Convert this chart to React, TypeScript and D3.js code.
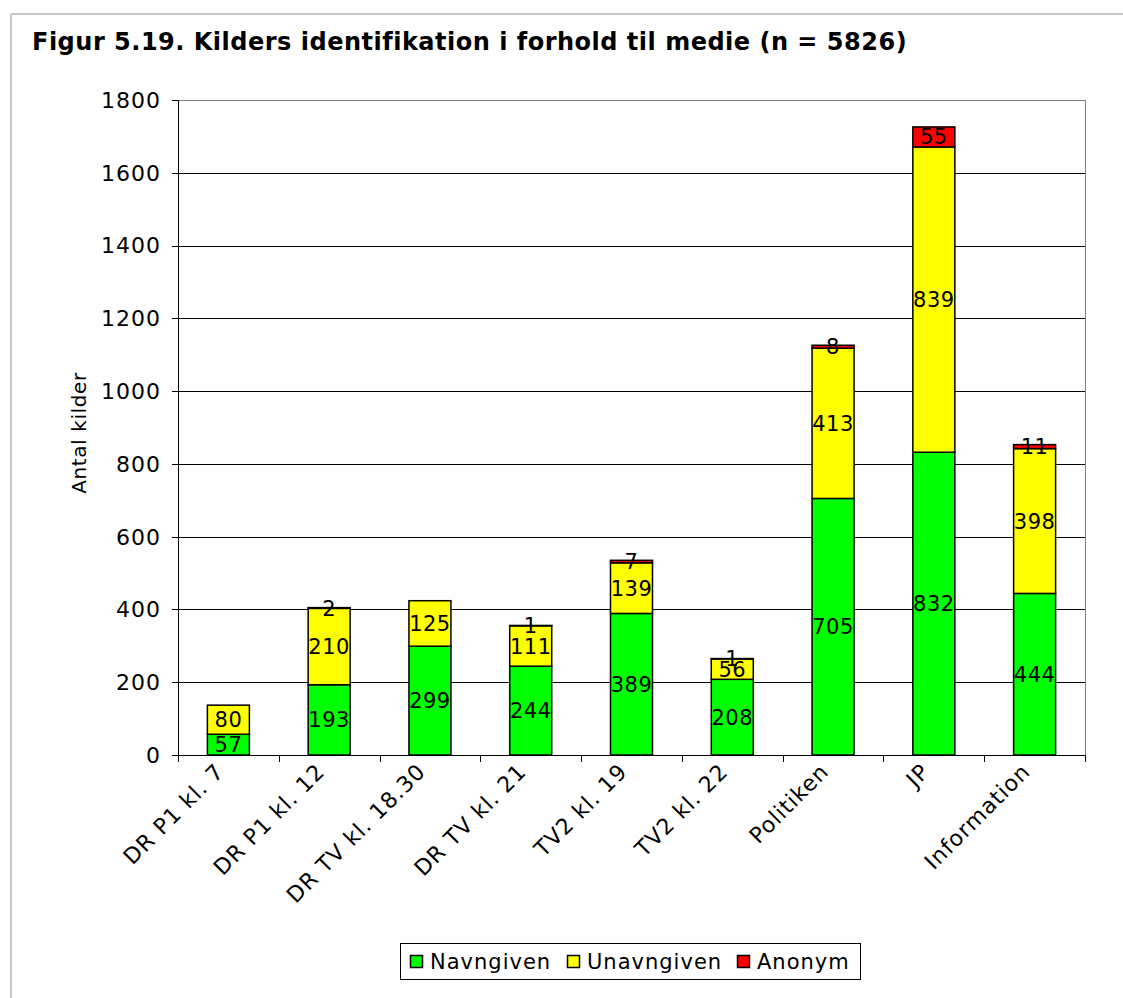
import * as d3 from "d3"

const categories = [
  "DR P1 kl. 7",
  "DR P1 kl. 12",
  "DR TV kl. 18.30",
  "DR TV kl. 21",
  "TV2 kl. 19",
  "TV2 kl. 22",
  "Politiken",
  "JP",
  "Information",
]
const seriesNames = ["Navngiven", "Unavngiven", "Anonym"]
const navngiven = [57, 193, 299, 244, 389, 208, 705, 832, 444]
const unavngiven = [80, 210, 125, 111, 139, 56, 413, 839, 398]
const anonym = [0, 2, 0, 1, 7, 1, 8, 55, 11]
const yTicks = [0, 200, 400, 600, 800, 1000, 1200, 1400, 1600, 1800]
const colors = ["#00ff00", "#ffff00", "#ff0000"]

const W = 1123
const H = 998
const font = "'DejaVu Sans', Verdana, sans-serif"

export default function App() {
  const left = 178
  const right = 1085
  const top = 100
  const bottom = 755

  const rows = categories.map((c, i) => ({
    cat: c,
    Navngiven: navngiven[i],
    Unavngiven: unavngiven[i],
    Anonym: anonym[i],
  }))

  const x = d3.scaleBand<string>().domain(categories).range([left, right]).paddingInner(0).paddingOuter(0)
  const y = d3.scaleLinear().domain([0, 1800]).range([bottom, top])
  const stack = d3.stack<(typeof rows)[0]>().keys(seriesNames)
  const layers = stack(rows)
  const barW = 42

  return (
    <svg
      width={W}
      height={H}
      style={{ position: "absolute", left: 0, top: 0, background: "#fff" }}
      fontFamily={font}
    >
      {/* outer frame */}
      <line x1={11} x2={11} y1={14} y2={H} stroke="#c8c8c8" strokeWidth={2} />
      <line x1={11} x2={W} y1={14} y2={14} stroke="#c8c8c8" strokeWidth={2} />

      <text x={32} y={50} fontSize={24} fontWeight="bold" letterSpacing={0.5} fill="#000">
        Figur 5.19. Kilders identifikation i forhold til medie (n = 5826)
      </text>

      {/* gridlines */}
      {yTicks.map((t) => (
        <line
          key={t}
          x1={left}
          x2={right}
          y1={Math.round(y(t)) + 0.5}
          y2={Math.round(y(t)) + 0.5}
          stroke={t === 1800 ? "#808080" : "#000"}
          strokeWidth={1}
        />
      ))}
      <line x1={right + 0.5} x2={right + 0.5} y1={top} y2={bottom} stroke="#808080" />

      {/* bars */}
      {layers.map((layer, li) =>
        layer.map((d, i) => {
          const v = d[1] - d[0]
          if (v <= 0) return null
          const cx = (x(categories[i]) ?? 0) + x.bandwidth() / 2
          return (
            <rect
              key={`${li}-${i}`}
              x={cx - barW / 2}
              y={y(d[1])}
              width={barW}
              height={y(d[0]) - y(d[1])}
              fill={colors[li]}
              stroke="#000"
              strokeWidth={1.5}
            />
          )
        }),
      )}

      {/* value labels */}
      {layers.map((layer, li) =>
        layer.map((d, i) => {
          const v = d[1] - d[0]
          if (v <= 0) return null
          const cx = (x(categories[i]) ?? 0) + x.bandwidth() / 2
          return (
            <text
              key={`t${li}-${i}`}
              x={cx}
              y={(y(d[0]) + y(d[1])) / 2}
              dy="0.36em"
              textAnchor="middle"
              fontSize={21}
              letterSpacing={0.5}
              fill="#000"
            >
              {v}
            </text>
          )
        }),
      )}

      {/* y axis */}
      <line x1={left + 0.5} x2={left + 0.5} y1={top} y2={bottom + 6} stroke="#000" />
      {yTicks.map((t) => (
        <g key={`y${t}`}>
          <line x1={left - 6} x2={left} y1={Math.round(y(t)) + 0.5} y2={Math.round(y(t)) + 0.5} stroke="#000" />
          <text x={161} y={y(t)} dy="0.36em" textAnchor="end" fontSize={22} letterSpacing={1} fill="#000">
            {t}
          </text>
        </g>
      ))}
      <text
        transform={`translate(86,433) rotate(-90)`}
        textAnchor="middle"
        fontSize={20}
        letterSpacing={0.6}
        fill="#000"
      >
        Antal kilder
      </text>

      {/* x axis */}
      <line x1={left} x2={right} y1={bottom + 0.5} y2={bottom + 0.5} stroke="#000" />
      {categories.map((c, i) => (
        <line
          key={`xt${i}`}
          x1={Math.round(x(c) ?? 0) + 0.5}
          x2={Math.round(x(c) ?? 0) + 0.5}
          y1={bottom}
          y2={bottom + 7}
          stroke="#000"
        />
      ))}
      <line x1={right + 0.5} x2={right + 0.5} y1={bottom} y2={bottom + 7} stroke="#000" />
      {categories.map((c) => {
        const cx = (x(c) ?? 0) + x.bandwidth() / 2
        return (
          <text
            key={`xl${c}`}
            transform={`translate(${cx - 3},${bottom + 18}) rotate(-45)`}
            textAnchor="end"
            fontSize={22}
            letterSpacing={1}
            fill="#000"
          >
            {c}
          </text>
        )
      })}

      {/* legend */}
      <rect x={400.5} y={943.5} width={460} height={36} fill="#fff" stroke="#000" />
      {seriesNames.map((s, i) => {
        const offs = [410, 567, 737]
        const lx = offs[i]
        return (
          <g key={s}>
            <rect x={lx + 0.5} y={955.5} width={12} height={12} fill={colors[i]} stroke="#000" strokeWidth={1.5} />
            <text x={lx + 20} y={961} dy="0.36em" fontSize={21} letterSpacing={1} fill="#000">
              {s}
            </text>
          </g>
        )
      })}
    </svg>
  )
}
